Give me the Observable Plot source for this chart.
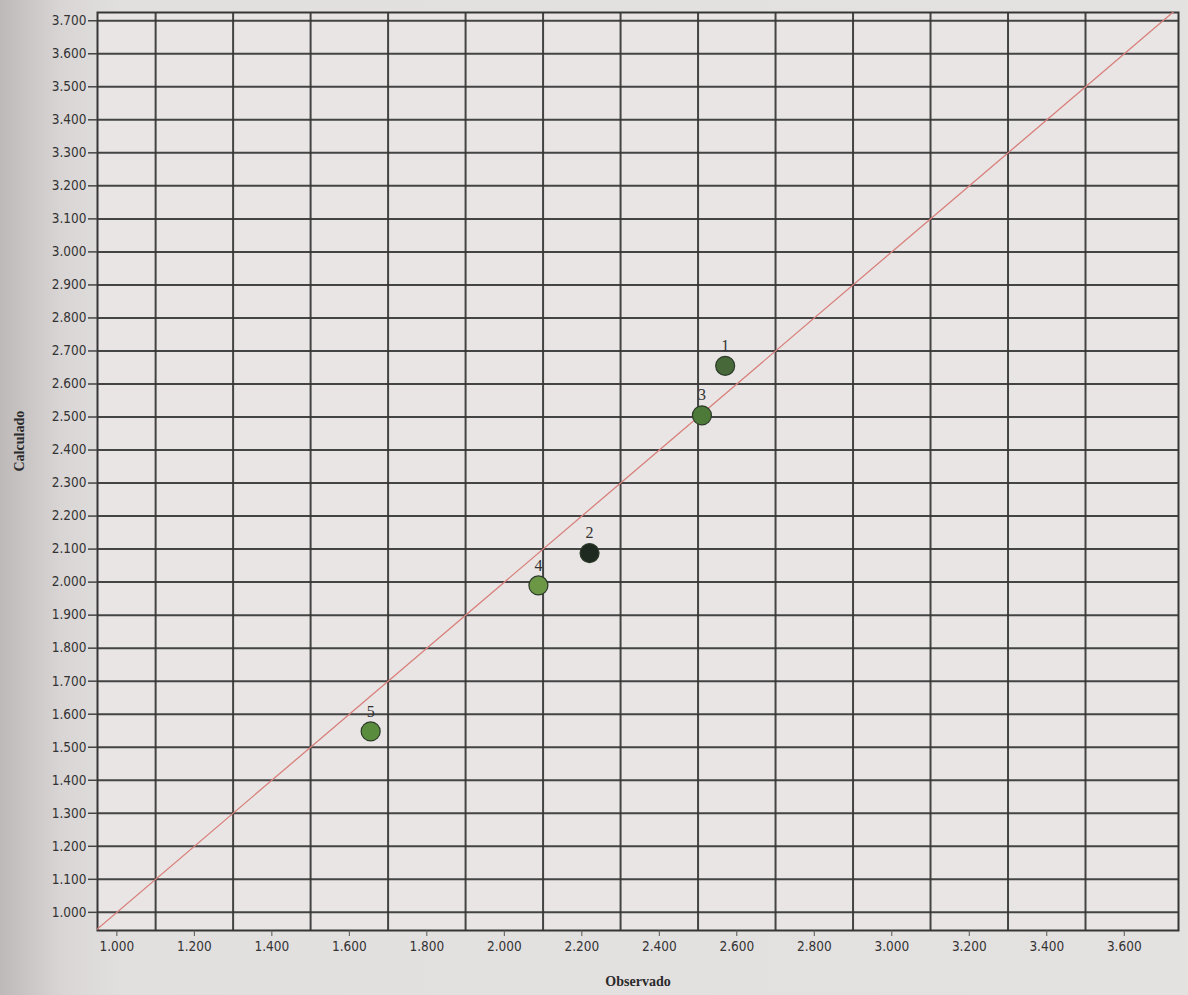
<!DOCTYPE html>
<html>
<head>
<meta charset="utf-8">
<script src="https://cdn.jsdelivr.net/npm/d3@7"></script>
<script src="https://cdn.jsdelivr.net/npm/@observablehq/plot@0.6"></script>
<style>
  html, body { margin: 0; padding: 0; background: linear-gradient(to right, #bdb9b9 0px, #d9d5d5 60px, #e2dfdf 120px, #e4e1e1 100%); }
  #chart svg { display: block; }
</style>
</head>
<body>
<div id="chart"></div>
<script>
// ---- data ----
const pointIds   = ["1", "2", "3", "4", "5"];
const observado  = [2570, 2220, 2510, 2088, 1655];
const calculado  = [2655, 2088, 2505, 1990, 1548];
const pointColor = ["#47693a", "#1e2a1f", "#4d7a38", "#6c9846", "#5a8c3e"];

const xTickValues = [1000, 1200, 1400, 1600, 1800, 2000, 2200, 2400, 2600, 2800, 3000, 3200, 3400, 3600];
const xGridValues = [1100, 1300, 1500, 1700, 1900, 2100, 2300, 2500, 2700, 2900, 3100, 3300, 3500];
const yTickValues = d3.range(1000, 3701, 100);
const xDomain = [950, 3740];
const yDomain = [945, 3725];
const identityLine = [900, 3800];

const points = pointIds.map((id, i) => ({id, x: observado[i], y: calculado[i], c: pointColor[i]}));

const ptFormat = d3.formatLocale({decimal: ",", thousands: ".", grouping: [3], currency: ["", ""]}).format(",d");

const chart = Plot.plot({
  width: 1188,
  height: 995,
  marginLeft: 97,
  marginRight: 10,
  marginTop: 12,
  marginBottom: 65,
  x: {domain: xDomain},
  y: {domain: yDomain},
  style: {background: "transparent", fontFamily: "'Liberation Sans Narrow', 'DejaVu Sans Condensed', 'Liberation Sans', sans-serif", fontSize: "13.5px", color: "#333"},
  marks: [
    Plot.frame({fill: "#e8e5e4"}),
    Plot.gridY(yTickValues, {stroke: "#363636", strokeOpacity: 0.92, strokeWidth: 2}),
    Plot.gridX(xGridValues, {stroke: "#363636", strokeOpacity: 0.92, strokeWidth: 2}),
    Plot.frame({stroke: "#363636", strokeWidth: 2}),
    Plot.line(identityLine, {x: d => d, y: d => d, stroke: "#d9807c", strokeWidth: 1.3, clip: true}),
    Plot.axisY(yTickValues, {tickFormat: ptFormat, tickSize: 9, tickPadding: 2, label: null, stroke: "#444", strokeWidth: 1.5}),
    Plot.axisX(xTickValues, {tickFormat: ptFormat, tickSize: 6, tickPadding: 5, label: null, stroke: "#555"}),
    Plot.dot(points, {x: "x", y: "y", r: 9.5, fill: "c", stroke: "#2c3a28", strokeWidth: 1.2}),
    Plot.text(points, {x: "x", y: "y", text: "id", dy: -20, fontSize: 16, fill: "#333", fontFamily: "'Liberation Serif', serif"}),
    Plot.text(["Observado"], {frameAnchor: "bottom", dy: 55, text: d => d, fontWeight: "bold", fontSize: 14, fill: "#2a2a2a", fontFamily: "'Liberation Serif', serif"}),
    Plot.text(["Calculado"], {frameAnchor: "left", dx: -78, rotate: -90, text: d => d, fontWeight: "bold", fontSize: 14, fill: "#2a2a2a", fontFamily: "'Liberation Serif', serif"})
  ]
});

document.getElementById("chart").append(chart);
</script>
</body>
</html>
